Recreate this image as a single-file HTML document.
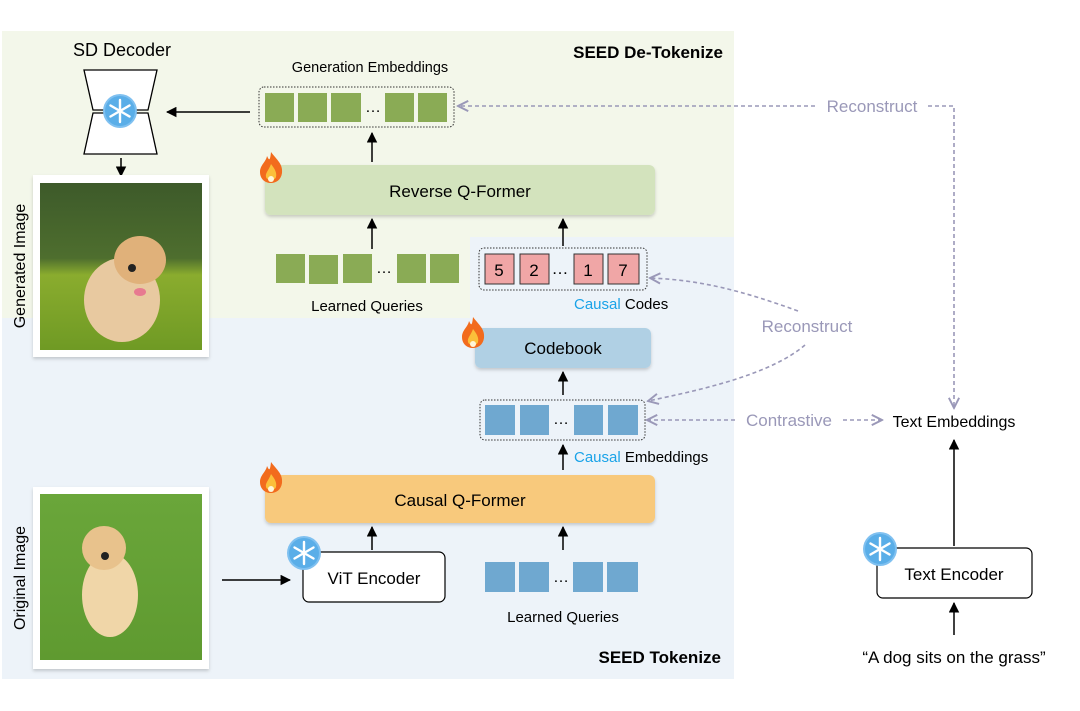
<!DOCTYPE html>
<html><head><meta charset="utf-8"><style>
html,body{margin:0;padding:0;background:#fff;}
svg{display:block;font-family:"Liberation Sans",sans-serif;}
</style></head><body>
<svg width="1080" height="711" viewBox="0 0 1080 711" xmlns="http://www.w3.org/2000/svg">
<defs>
<marker id="ah" viewBox="0 0 10 10" refX="9" refY="5" markerWidth="7" markerHeight="7" orient="auto"><path d="M0,0 L10,5 L0,10 z" fill="#000"/></marker>
<marker id="ag" viewBox="0 0 10 10" refX="9" refY="5" markerWidth="8" markerHeight="8" orient="auto"><path d="M1,1 L9,5 L1,9" fill="none" stroke="#9a98b8" stroke-width="1.5"/></marker>
<linearGradient id="g1" x1="0" y1="0" x2="0" y2="1"><stop offset="0" stop-color="#3d5a2a"/><stop offset="0.45" stop-color="#4e6e2e"/><stop offset="0.55" stop-color="#8aac2e"/><stop offset="1" stop-color="#6f9a24"/></linearGradient>
<linearGradient id="g2" x1="0" y1="0" x2="0" y2="1"><stop offset="0" stop-color="#6aa63a"/><stop offset="1" stop-color="#5f9a30"/></linearGradient>
<filter id="sh" x="-5%" y="-10%" width="110%" height="130%"><feDropShadow dx="0" dy="2" stdDeviation="1.5" flood-color="#000" flood-opacity="0.18"/></filter>
<g id="snow"><circle r="17" fill="#7fc0f0"/><circle r="15" fill="#5aaee8"/><g stroke="#fff" stroke-width="2.4" stroke-linecap="round"><line x1="0" y1="-11" x2="0" y2="11"/><line x1="-9.5" y1="-5.5" x2="9.5" y2="5.5"/><line x1="-9.5" y1="5.5" x2="9.5" y2="-5.5"/></g></g>
<g id="fire"><path d="M0,-16 C6,-8 12,-4 11,5 C10,12 5,15 0,15 C-6,15 -11,11 -11,4 C-11,-3 -5,-6 -4,-12 C-2,-8 -1,-6 0,-16z" fill="#f26b1d"/><path d="M0,-4 C4,1 6,5 5,9 C4,13 -4,13 -5,9 C-6,5 -2,2 0,-4z" fill="#fbbf3a"/><circle cx="0" cy="11" r="3" fill="#fff6d8"/></g>
</defs>
<!-- backgrounds -->
<rect x="2" y="31" width="732" height="648" fill="#edf3f9"/>
<path d="M2,31 H734 V237 H470 V318 H2 Z" fill="#f3f7ea"/>
<text x="723" y="58" font-size="17" font-weight="bold" text-anchor="end">SEED De-Tokenize</text>
<text x="721" y="663" font-size="17" font-weight="bold" text-anchor="end">SEED Tokenize</text>

<!-- SD decoder -->
<text x="122" y="56" font-size="18" text-anchor="middle">SD Decoder</text>
<path d="M84,70 H157 L148,110 H93 Z" fill="#fff" stroke="#000" stroke-width="1.3"/>
<path d="M93,113 H148 L157,154 H84 Z" fill="#fff" stroke="#000" stroke-width="1.3"/>
<use href="#snow" x="120" y="111"/>
<line x1="250" y1="112" x2="167" y2="112" stroke="#000" stroke-width="1.5" marker-end="url(#ah)"/>
<line x1="121" y1="158" x2="121" y2="176" stroke="#000" stroke-width="1.5" marker-end="url(#ah)"/>

<!-- images -->
<g filter="url(#sh)"><rect x="33" y="175" width="176" height="182" fill="#fff"/><rect x="33" y="487" width="176" height="182" fill="#fff"/></g>
<rect x="40" y="183" width="162" height="167" fill="url(#g1)"/>
<ellipse cx="122" cy="300" rx="38" ry="42" fill="#e8c9a0"/><ellipse cx="140" cy="260" rx="26" ry="24" fill="#e0b17a"/>
<circle cx="132" cy="268" r="4" fill="#222"/><ellipse cx="140" cy="292" rx="6" ry="4" fill="#e77a90"/>
<rect x="40" y="494" width="162" height="166" fill="url(#g2)"/>
<ellipse cx="110" cy="595" rx="28" ry="42" fill="#f0d6a8"/><ellipse cx="104" cy="548" rx="22" ry="22" fill="#e8c28c"/>
<circle cx="105" cy="556" r="4" fill="#222"/>
<text transform="translate(25,266) rotate(-90)" font-size="16" text-anchor="middle">Generated Image</text>
<text transform="translate(25,578) rotate(-90)" font-size="16" text-anchor="middle">Original Image</text>
<line x1="222" y1="580" x2="290" y2="580" stroke="#000" stroke-width="1.5" marker-end="url(#ah)"/>

<!-- Generation embeddings -->
<text x="370" y="72" font-size="14.5" text-anchor="middle">Generation Embeddings</text>
<rect x="259" y="87" width="195" height="40" rx="5" fill="none" stroke="#333" stroke-width="1" stroke-dasharray="1.5 1.5"/>
<g fill="#8aab55"><rect x="265" y="93" width="29" height="29"/><rect x="298" y="93" width="29" height="29"/><rect x="331" y="93" width="30" height="29"/><rect x="385" y="93" width="29" height="29"/><rect x="418" y="93" width="29" height="29"/></g>
<text x="373" y="112" font-size="16" text-anchor="middle">…</text>
<line x1="372" y1="162" x2="372" y2="133" stroke="#000" stroke-width="1.5" marker-end="url(#ah)"/>
<rect x="265" y="165" width="390" height="50" rx="6" fill="#d3e3bd" filter="url(#sh)"/>
<text x="460" y="197" font-size="17" text-anchor="middle">Reverse Q-Former</text>
<use href="#fire" x="271" y="168"/>
<line x1="372" y1="249" x2="372" y2="219" stroke="#000" stroke-width="1.5" marker-end="url(#ah)"/>
<g fill="#8aab55"><rect x="276" y="254" width="29" height="29"/><rect x="309" y="255" width="29" height="29"/><rect x="343" y="254" width="29" height="29"/><rect x="397" y="254" width="29" height="29"/><rect x="430" y="254" width="29" height="29"/></g>
<text x="384" y="273" font-size="16" text-anchor="middle">…</text>
<text x="367" y="311" font-size="15" text-anchor="middle">Learned Queries</text>

<!-- codes -->
<rect x="479" y="248" width="168" height="42" rx="5" fill="none" stroke="#333" stroke-width="1" stroke-dasharray="1.5 1.5"/>
<g fill="#f0a6a6" stroke="#333" stroke-width="1"><rect x="485" y="254" width="29" height="30"/><rect x="520" y="254" width="29" height="30"/><rect x="574" y="254" width="29" height="30"/><rect x="608" y="254" width="31" height="30"/></g>
<g font-size="17" text-anchor="middle"><text x="499" y="276">5</text><text x="534" y="276">2</text><text x="560" y="274">…</text><text x="588" y="276">1</text><text x="623" y="276">7</text></g>
<line x1="563" y1="246" x2="563" y2="219" stroke="#000" stroke-width="1.5" marker-end="url(#ah)"/>
<text x="574" y="309" font-size="15"><tspan fill="#1aa3e8">Causal</tspan> Codes</text>
<rect x="475" y="328" width="176" height="40" rx="6" fill="#b0d0e4" filter="url(#sh)"/>
<text x="563" y="354" font-size="17" text-anchor="middle">Codebook</text>
<use href="#fire" x="473" y="333"/>
<line x1="563" y1="395" x2="563" y2="372" stroke="#000" stroke-width="1.5" marker-end="url(#ah)"/>
<rect x="480" y="400" width="165" height="40" rx="5" fill="none" stroke="#333" stroke-width="1" stroke-dasharray="1.5 1.5"/>
<g fill="#6fa8d0"><rect x="485" y="405" width="30" height="30"/><rect x="520" y="405" width="29" height="30"/><rect x="574" y="405" width="29" height="30"/><rect x="608" y="405" width="30" height="30"/></g>
<text x="561" y="424" font-size="16" text-anchor="middle">…</text>
<line x1="563" y1="470" x2="563" y2="445" stroke="#000" stroke-width="1.5" marker-end="url(#ah)"/>
<text x="574" y="462" font-size="15"><tspan fill="#1aa3e8">Causal</tspan> Embeddings</text>
<rect x="265" y="475" width="390" height="48" rx="6" fill="#f8c97c" filter="url(#sh)"/>
<text x="460" y="506" font-size="17" text-anchor="middle">Causal Q-Former</text>
<use href="#fire" x="271" y="478"/>
<line x1="372" y1="550" x2="372" y2="527" stroke="#000" stroke-width="1.5" marker-end="url(#ah)"/>
<line x1="563" y1="550" x2="563" y2="527" stroke="#000" stroke-width="1.5" marker-end="url(#ah)"/>
<rect x="303" y="552" width="142" height="50" rx="6" fill="#fff" stroke="#000" stroke-width="1.2"/>
<text x="374" y="584" font-size="17" text-anchor="middle">ViT Encoder</text>
<use href="#snow" x="304" y="553"/>
<g fill="#6fa8d0"><rect x="485" y="562" width="30" height="30"/><rect x="519" y="562" width="30" height="30"/><rect x="573" y="562" width="30" height="30"/><rect x="607" y="562" width="31" height="30"/></g>
<text x="561" y="582" font-size="16" text-anchor="middle">…</text>
<text x="563" y="622" font-size="15" text-anchor="middle">Learned Queries</text>

<!-- dashed connectors -->
<g stroke="#9a98b8" stroke-width="1.6" stroke-dasharray="4 3" fill="none">
<line x1="815" y1="106" x2="458" y2="106" marker-end="url(#ag)"/>
<path d="M928,106 H954 V408" marker-end="url(#ag)"/>
<path d="M798,311 C740,290 700,280 650,278" marker-end="url(#ag)"/>
<path d="M805,345 C770,375 700,390 648,401" marker-end="url(#ag)"/>
<line x1="735" y1="420" x2="647" y2="420" marker-end="url(#ag)"/>
<line x1="843" y1="420" x2="882" y2="420" marker-end="url(#ag)"/>
</g>
<g fill="#9a98b8" font-size="17" text-anchor="middle"><text x="872" y="112">Reconstruct</text><text x="807" y="332">Reconstruct</text><text x="789" y="426">Contrastive</text></g>
<text x="954" y="427" font-size="16" text-anchor="middle">Text Embeddings</text>
<line x1="954" y1="546" x2="954" y2="440" stroke="#000" stroke-width="1.5" marker-end="url(#ah)"/>
<rect x="877" y="548" width="155" height="50" rx="6" fill="#fff" stroke="#000" stroke-width="1.2"/>
<text x="954" y="580" font-size="17" text-anchor="middle">Text Encoder</text>
<use href="#snow" x="880" y="549"/>
<line x1="954" y1="635" x2="954" y2="603" stroke="#000" stroke-width="1.5" marker-end="url(#ah)"/>
<text x="954" y="663" font-size="17" text-anchor="middle">“A dog sits on the grass”</text>
</svg>
</body></html>
